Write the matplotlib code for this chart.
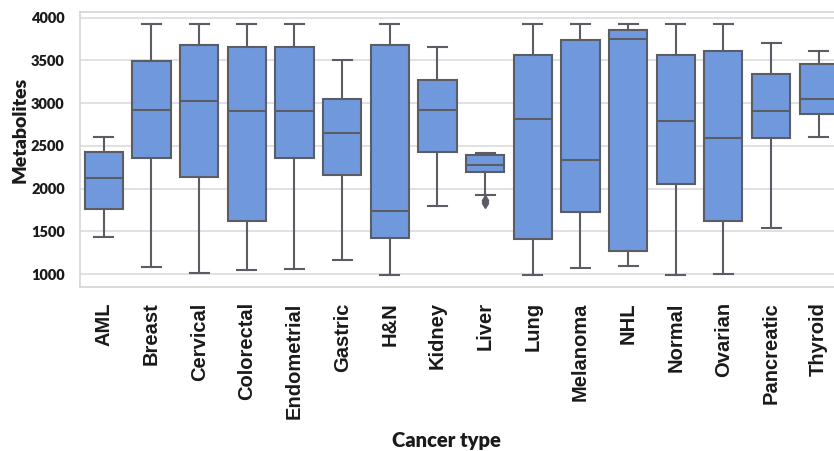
import matplotlib.pyplot as plt

# Valores (cajas y bigotes por tipo de cancer)
tipos = ['AML', 'Breast', 'Cervical', 'Colorectal', 'Endometrial', 'Gastric', 'H&N',
         'Kidney', 'Liver', 'Lung', 'Melanoma', 'NHL', 'Normal', 'Ovarian',
         'Pancreatic', 'Thyroid']
bigote_inf = [1436, 1086, 1008, 1047, 1058, 1164, 988, 1799, 1923, 988, 1066, 1097, 988, 1000, 1534, 2609]
q1 = [1764, 2360, 2138, 1619, 2360, 2153, 1417, 2426, 2196, 1409, 1729, 1273, 2048, 1619, 2586, 2874]
mediana = [2126, 2925, 3026, 2905, 2905, 2652, 1736, 2925, 2274, 2812, 2329, 3754, 2792, 2593, 2905, 3049]
q3 = [2426, 3493, 3677, 3657, 3657, 3049, 3677, 3275, 2387, 3567, 3739, 3856, 3567, 3610, 3338, 3462]
bigote_sup = [2609, 3922, 3922, 3922, 3922, 3501, 3922, 3657, 2414, 3922, 3922, 3922, 3922, 3922, 3704, 3610]
atipicos = {'Liver': [1870, 1850, 1830]}

stats = []
for i, t in enumerate(tipos):
    stats.append({'label': t, 'whislo': bigote_inf[i], 'q1': q1[i], 'med': mediana[i],
                  'q3': q3[i], 'whishi': bigote_sup[i], 'fliers': atipicos.get(t, [])})

fig = plt.figure(figsize=(8.34, 4.51), dpi=100)
ax = fig.add_axes([80 / 834, 1 - 287 / 451, 1 - 80 / 834, 275 / 451])

gris = '#5c5c64'
ax.bxp(stats, positions=range(len(tipos)), widths=0.8, patch_artist=True,
       boxprops=dict(facecolor='#7099dd', edgecolor=gris, linewidth=1.5),
       medianprops=dict(color=gris, linewidth=1.5),
       whiskerprops=dict(color=gris, linewidth=1.5),
       capprops=dict(color=gris, linewidth=1.5),
       flierprops=dict(marker='d', markerfacecolor=gris, markeredgecolor=gris, markersize=5))

ax.set_xlim(-0.5, 15.32)
ax.set_ylim(848, 4066)
ax.set_yticks([1000, 1500, 2000, 2500, 3000, 3500, 4000])
ax.yaxis.grid(True, color='#dcdcdc', linewidth=1.2)
ax.set_axisbelow(True)
for lado in ['top', 'left', 'bottom']:
    ax.spines[lado].set_color('#d4d4d4')
    ax.spines[lado].set_linewidth(1.2)
ax.spines['right'].set_visible(False)

ax.set_xticks(range(len(tipos)))
ax.set_xticklabels(tipos, rotation=90, fontsize=14.5, fontweight='bold',
                   family='Liberation Sans', color='#1a1a1a')
for lbl in ax.get_yticklabels():
    lbl.set_family('Lato')
    lbl.set_fontweight('heavy')
    lbl.set_fontsize(10.5)
    lbl.set_color('#1a1a1a')
ax.tick_params(axis='x', length=0, pad=11)
ax.tick_params(axis='y', length=0, pad=11)

fig.text(20 / 834, 1 - 130 / 451, 'Metabolites', rotation=90, ha='center', va='center',
         fontsize=14, fontweight='heavy', family='Lato', color='#1a1a1a')
fig.text(446 / 834, 1 - 440 / 451, 'Cancer type', ha='center', va='center',
         fontsize=14.5, fontweight='heavy', family='Lato', color='#1a1a1a')

plt.savefig('out.png', dpi=100)
